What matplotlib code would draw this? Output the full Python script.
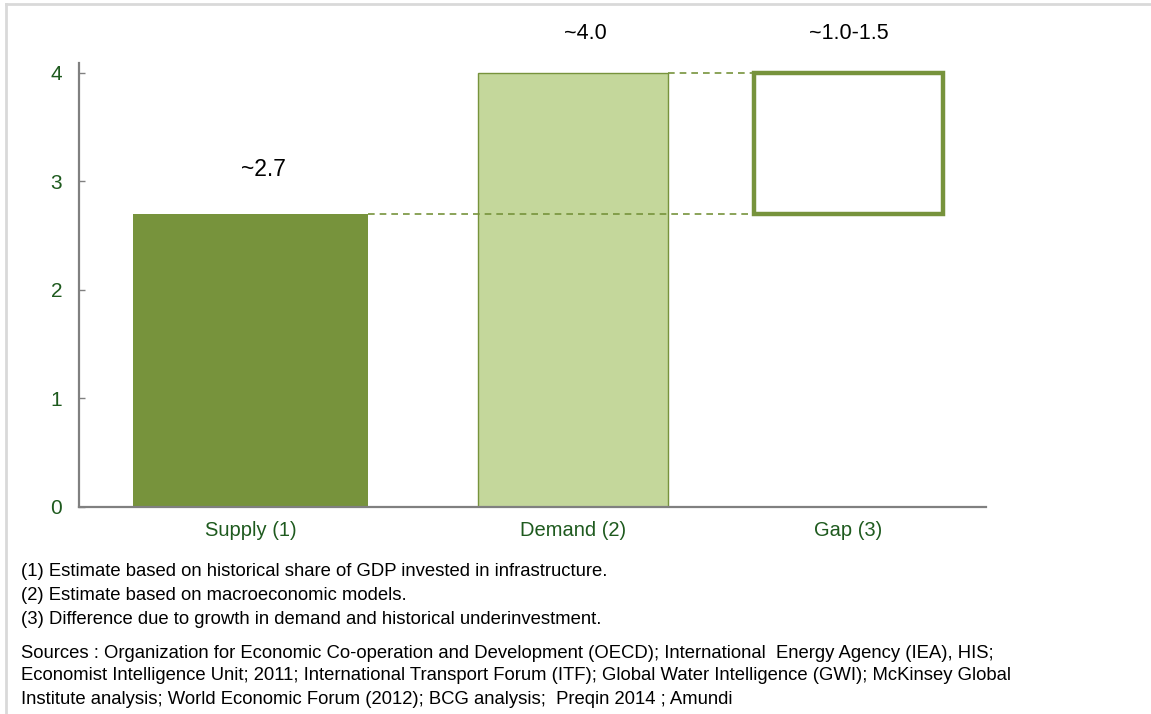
import matplotlib
matplotlib.use("Agg")
import matplotlib.pyplot as plt
from matplotlib.lines import Line2D

plt.rcParams['font.family'] = ['Liberation Sans', 'DejaVu Sans']

# data
categories = ["Supply (1)", "Demand (2)", "Gap (3)"]
supply = 2.7
demand = 4.0
value_labels = ["~2.7", "~4.0", "~1.0-1.5"]
y_ticks = [0, 1, 2, 3, 4]
footnotes = [
    "(1) Estimate based on historical share of GDP invested in infrastructure.",
    "(2) Estimate based on macroeconomic models.",
    "(3) Difference due to growth in demand and historical underinvestment.",
]
sources = [
    "Sources : Organization for Economic Co-operation and Development (OECD); International  Energy Agency (IEA), HIS;",
    "Economist Intelligence Unit; 2011; International Transport Forum (ITF); Global Water Intelligence (GWI); McKinsey Global",
    "Institute analysis; World Economic Forum (2012); BCG analysis;  Preqin 2014 ; Amundi",
]

# layout / style
x_pos = [0, 1, 1.854]
widths = [0.729, 0.589, 0.586]
dark = "#77933C"
light = "#C4D79B"
txt_green = "#1E5A1E"
axis_grey = "#808080"

W, H = 1151, 714
fig = plt.figure(figsize=(W / 100, H / 100), dpi=100)
ax = fig.add_axes([79 / W, 1 - 507 / H, (986 - 79) / W, (507 - 63) / H])

# bars
ax.bar(x_pos[0], supply, width=widths[0], color=dark, edgecolor="none", zorder=2)
ax.bar(x_pos[1], demand, width=widths[1], color=light, edgecolor=dark, linewidth=1.0, zorder=2)
ax.bar(x_pos[2], demand - supply, bottom=supply, width=widths[2], color="white",
       edgecolor=dark, linewidth=3.2, zorder=3)

# connectors
dash = dict(color=dark, lw=1.2, ls=(0, (4, 3)), zorder=4)
ax.plot([x_pos[0] + widths[0] / 2, x_pos[2] - widths[2] / 2], [supply, supply], **dash)
ax.plot([x_pos[1] + widths[1] / 2, x_pos[2] - widths[2] / 2], [demand, demand], **dash)

# value labels
ax.text(x_pos[0] + 0.04, supply + 0.41, value_labels[0], ha="center", va="center",
        fontsize=16.5, color="black")
ax.text(x_pos[1] + 0.04, demand + 0.36, value_labels[1], ha="center", va="center",
        fontsize=15.5, color="black", clip_on=False)
ax.text(x_pos[2], demand + 0.36, value_labels[2], ha="center", va="center",
        fontsize=15.5, color="black", clip_on=False)

ax.set_xlim(-0.532, 2.281)
ax.set_ylim(0, 4.092)
ax.set_yticks(y_ticks)
ax.set_yticklabels([str(t) for t in y_ticks])
ax.set_xticks(x_pos)
ax.set_xticklabels(categories)
ax.tick_params(axis="y", direction="in", length=4, width=1, color=axis_grey,
               labelsize=15, labelcolor=txt_green, pad=12)
ax.tick_params(axis="x", length=0, labelsize=14.5, labelcolor=txt_green, pad=10)
for s in ["top", "right"]:
    ax.spines[s].set_visible(False)
for s in ["left", "bottom"]:
    ax.spines[s].set_color(axis_grey)
    ax.spines[s].set_linewidth(1.6)

# notes
y0 = [572, 595, 619]
for t, y in zip(footnotes, y0):
    fig.text(21 / W, 1 - y / H, t, ha="left", va="center", fontsize=13.3, color="black")
y1 = [653, 676, 699]
for t, y in zip(sources, y1):
    fig.text(21 / W, 1 - y / H, t, ha="left", va="center", fontsize=13.3, color="black")

# outer frame
fig.add_artist(Line2D([6 / W, 1], [1 - 4 / H, 1 - 4 / H], color="#D9D9D9", lw=2))
fig.add_artist(Line2D([6 / W, 6 / W], [0, 1 - 4 / H], color="#D9D9D9", lw=2))

fig.savefig("out.png", dpi=100)
